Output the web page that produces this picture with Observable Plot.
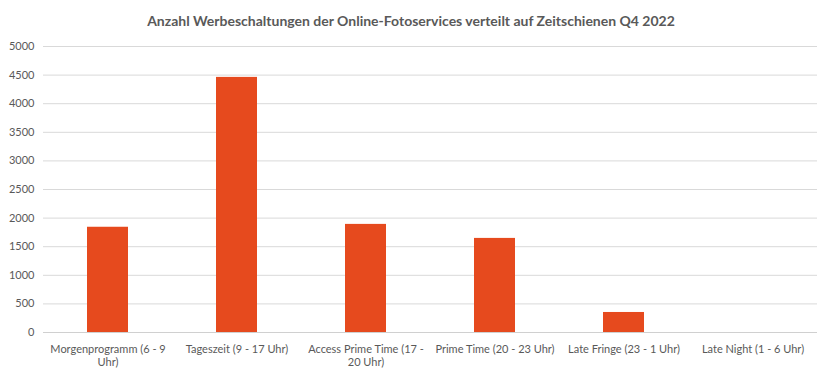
<!DOCTYPE html>
<html><head><meta charset="utf-8">
<script src="https://cdn.jsdelivr.net/npm/d3@7"></script>
<script src="https://cdn.jsdelivr.net/npm/@observablehq/plot@0.6"></script>
<style>
body{margin:0;background:#fff;font-family:Lato,"Open Sans",sans-serif;}
#title{width:832px;height:36px;box-sizing:border-box;padding-top:13px;text-align:center;font-size:14px;font-weight:bold;color:#595959;line-height:16px;padding-right:10px;}
</style>
</head><body>
<div id="title">Anzahl Werbeschaltungen der Online-Fotoservices verteilt auf Zeitschienen Q4 2022</div>
<div id="chart"></div>
<script>
const categories = ["Morgenprogramm (6 - 9 Uhr)","Tageszeit (9 - 17 Uhr)","Access Prime Time (17 - 20 Uhr)","Prime Time (20 - 23 Uhr)","Late Fringe (23 - 1 Uhr)","Late Night (1 - 6 Uhr)"];
const tickLabels = ["Morgenprogramm (6 - 9\nUhr)","Tageszeit (9 - 17 Uhr)","Access Prime Time (17 -\n20 Uhr)","Prime Time (20 - 23 Uhr)","Late Fringe (23 - 1 Uhr)","Late Night (1 - 6 Uhr)"];
const values = [1840, 4460, 1890, 1645, 350, 0];
const yTicks = [0,500,1000,1500,2000,2500,3000,3500,4000,4500,5000];

const data = categories.map((c,i)=>({category:c, value:values[i]}));
const labelOf = new Map(categories.map((c,i)=>[c,tickLabels[i]]));

const plot = Plot.plot({
  width: 832,
  height: 343,
  marginTop: 10,
  marginBottom: 47,
  marginLeft: 43,
  marginRight: 15,
  style: {fontFamily: "Lato, 'Open Sans', sans-serif", fontSize: "11px", color: "#595959", background: "#fff"},
  x: {domain: categories, paddingInner: 0.68, paddingOuter: 0.34, label: null},
  y: {domain: [0,5000], label: null},
  marks: [
    Plot.gridY(yTicks, {stroke: "#d9d9d9", strokeOpacity: 1}),
    Plot.barY(data, {x: "category", y: "value", fill: "#e64a1e"}),
    Plot.ruleY([0], {stroke: "#d0d0d0"}),
    Plot.axisY(yTicks, {tickSize: 0, tickPadding: 9, fill: "#595959", fontSize: 11, label: null, tickFormat: d => String(d)}),
    Plot.axisX({tickSize: 0, tickPadding: 11, fill: "#595959", fontSize: 11, lineHeight: 1.2, tickFormat: d => labelOf.get(d), label: null})
  ]
});
document.getElementById("chart").appendChild(plot);
</script>
</body></html>
